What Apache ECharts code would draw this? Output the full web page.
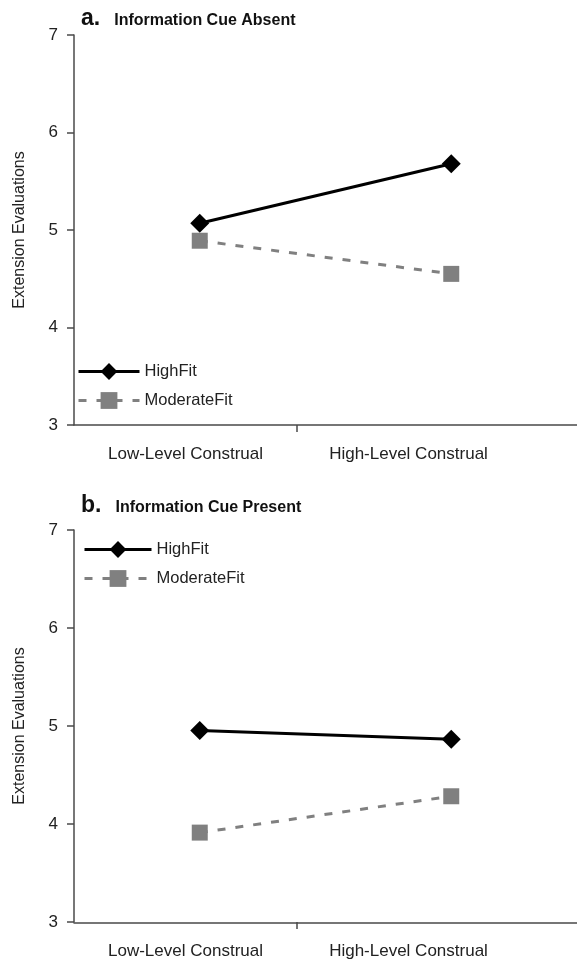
<!DOCTYPE html>
<html>
<head>
<meta charset="utf-8">
<script src="https://cdn.jsdelivr.net/npm/echarts@6/dist/echarts.min.js"></script>
<style>html,body{margin:0;padding:0;background:#fff}#c{width:577px;height:960px}</style>
</head>
<body>
<div id="c"></div>
<script>
const categories = ['Low-Level Construal', 'High-Level Construal'];
const seriesNames = ['HighFit', 'ModerateFit'];
const yMin = 3, yMax = 7, yStep = 1;
const panelLetters = ['a.', 'b.'];
const panelTitles = ['Information Cue Absent', 'Information Cue Present'];
const yAxisName = 'Extension Evaluations';
const highFitA = [5.07, 5.68];
const moderateFitA = [4.89, 4.55];
const highFitB = [4.96, 4.87];
const moderateFitB = [3.92, 4.29];

const FONT = '"Liberation Sans", Arial, Helvetica, sans-serif';
const AX = '#4a4a4a';
const panels = [
  {top: 35, height: 390, titleTop: 7, legendLeft: 77, legendTop: 363, legendW: 61, data: [highFitA, moderateFitA]},
  {top: 530, height: 393, titleTop: 494, legendLeft: 83, legendTop: 541, legendW: 67, data: [highFitB, moderateFitB]}
];

const option = {
  animation: false,
  backgroundColor: '#fff',
  title: [], legend: [], grid: [], xAxis: [], yAxis: [], series: []
};

panels.forEach((p, i) => {
  option.title.push({
    left: 81, top: p.titleTop, padding: 0,
    text: '{l|' + panelLetters[i] + '}{t|' + panelTitles[i] + '}',
    textStyle: {rich: {
      l: {fontFamily: FONT, fontSize: 23, fontWeight: 'bold', color: '#111', padding: [0, 14, 0, 0], verticalAlign: 'bottom'},
      t: {fontFamily: FONT, fontSize: 16, fontWeight: 'bold', color: '#111', verticalAlign: 'bottom', padding: [0, 0, 1, 0]}
    }}
  });
  option.grid.push({left: 74, right: -5, top: p.top, height: p.height, containLabel: false});
  option.grid.push({left: 74, width: 446, top: p.top, height: p.height, containLabel: false});
  const gd = i * 2, gl = i * 2 + 1;
  option.xAxis.push({
    gridIndex: gd, type: 'category', data: categories, boundaryGap: true,
    axisLine: {show: true, lineStyle: {color: AX, width: 1.5}},
    axisTick: {show: false}, axisLabel: {show: false}, splitLine: {show: false}
  });
  option.xAxis.push({
    gridIndex: gl, type: 'value', min: 0, max: 2, interval: 1,
    axisLine: {show: false},
    axisTick: {show: true, customValues: [1], length: 7, lineStyle: {color: AX, width: 1.5}},
    axisLabel: {show: true, customValues: [0.5, 1.5], margin: 21,
      formatter: v => categories[Math.floor(v)], fontFamily: FONT, fontSize: 17, color: '#222'},
    splitLine: {show: false}
  });
  option.yAxis.push({
    gridIndex: gd, type: 'value', min: yMin, max: yMax, interval: yStep, show: false
  });
  option.yAxis.push({
    gridIndex: gl, type: 'value', min: yMin, max: yMax, interval: yStep,
    name: yAxisName, nameLocation: 'middle', nameGap: 46, nameRotate: 90,
    nameTextStyle: {fontFamily: FONT, fontSize: 16, color: '#222'},
    axisLine: {show: true, lineStyle: {color: AX, width: 1.5}},
    axisTick: {show: true, length: 7, lineStyle: {color: AX, width: 1.5}},
    axisLabel: {fontFamily: FONT, fontSize: 17, color: '#222', margin: 16},
    splitLine: {show: false}
  });
  option.series.push({
    name: seriesNames[0], type: 'line', xAxisIndex: gd, yAxisIndex: gd,
    data: p.data[0], symbol: 'diamond', symbolSize: 19,
    lineStyle: {color: '#000', width: 3}, itemStyle: {color: '#000'}
  });
  option.series.push({
    name: seriesNames[1], type: 'line', xAxisIndex: gd, yAxisIndex: gd,
    data: p.data[1], symbol: 'rect', symbolSize: 16,
    lineStyle: {color: '#808080', width: 3, type: [8, 10]}, itemStyle: {color: '#808080'}
  });
  option.legend.push({
    left: p.legendLeft, top: p.legendTop, orient: 'vertical', padding: 0,
    itemWidth: p.legendW, itemHeight: 21, itemGap: 12,
    data: seriesNames,
    lineStyle: {width: 3},
    textStyle: {fontFamily: FONT, fontSize: 16.5, color: '#222'},
    selectedMode: false
  });
});

const chart = echarts.init(document.getElementById('c'), null, {renderer: 'canvas'});
chart.setOption(option);
</script>
</body>
</html>
